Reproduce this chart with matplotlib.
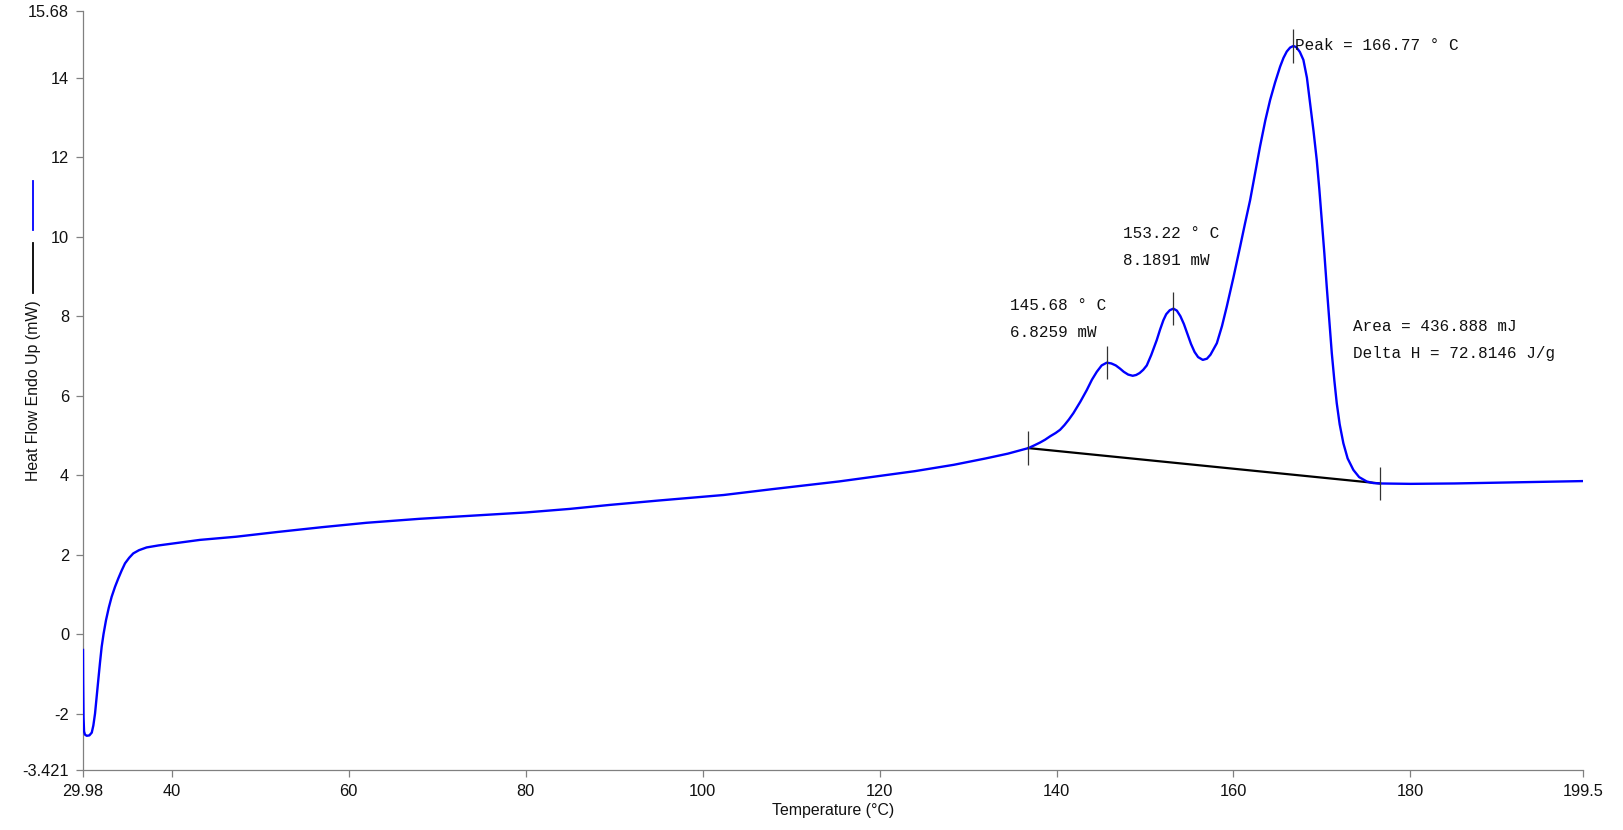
import numpy as np
import matplotlib
matplotlib.use('Agg')
import matplotlib.pyplot as plt
from matplotlib.lines import Line2D

# DSC heating curve
temp = [29.98, 30.0, 30.04, 30.1, 30.2, 30.4, 30.7, 30.97, 31.15, 31.34,
        31.52, 31.71, 31.9, 32.09, 32.3, 32.58, 32.9, 33.22, 33.6, 33.97,
        34.35, 34.73, 35.2, 35.66, 36.3, 37.17, 38.5, 40.19, 43.2, 47.3,
        52.0, 57.0, 62.0, 68.0, 74.0, 80.0, 85.0, 89.5, 95.0, 102.4,
        108.0, 115.4, 120.0, 124.0, 128.4, 132.0, 134.5, 136.82, 137.5, 138.14,
        138.7, 139.3, 139.9, 140.4, 140.9, 141.4, 141.91, 142.7, 143.42, 144.0,
        144.55, 145.1, 145.68, 146.2, 146.7, 147.18, 147.6, 148.1, 148.61, 149.0,
        149.4, 149.8, 150.2, 150.7, 151.33, 151.7, 152.08, 152.4, 152.8, 153.21,
        153.6, 154.0, 154.4, 154.8, 155.2, 155.6, 156.0, 156.53, 157.0, 157.4,
        157.8, 158.12, 158.7, 159.24, 160.0, 160.75, 161.3, 161.88, 162.4, 163.0,
        163.6, 164.14, 164.7, 165.27, 165.65, 166.02, 166.4, 166.77, 167.1, 167.5,
        167.9, 168.3, 168.66, 169.05, 169.41, 169.7, 169.98, 170.27, 170.54, 170.83,
        171.11, 171.4, 171.67, 172.0, 172.42, 172.9, 173.55, 174.2, 175.06, 175.8,
        176.57, 180.0, 185.0, 190.0, 195.0, 199.5]
heat_flow = [-0.40, -1.20, -2.10, -2.45, -2.53, -2.56, -2.55, -2.48, -2.30, -2.00,
             -1.60, -1.15, -0.72, -0.32, 0.00, 0.35, 0.67, 0.94, 1.19, 1.40,
             1.60, 1.78, 1.92, 2.03, 2.11, 2.18, 2.23, 2.28, 2.37, 2.45,
             2.57, 2.69, 2.80, 2.90, 2.98, 3.06, 3.15, 3.25, 3.36, 3.50,
             3.65, 3.84, 3.98, 4.10, 4.26, 4.42, 4.54, 4.68, 4.75, 4.82,
             4.89, 4.98, 5.06, 5.14, 5.26, 5.40, 5.56, 5.85, 6.14, 6.40,
             6.60, 6.76, 6.83, 6.81, 6.76, 6.68, 6.60, 6.53, 6.50, 6.52,
             6.57, 6.65, 6.76, 7.02, 7.40, 7.66, 7.90, 8.05, 8.15, 8.19,
             8.14, 8.00, 7.80, 7.55, 7.30, 7.10, 6.97, 6.90, 6.93, 7.03,
             7.19, 7.32, 7.75, 8.24, 8.98, 9.75, 10.33, 10.92, 11.55, 12.27,
             12.93, 13.44, 13.88, 14.28, 14.50, 14.66, 14.76, 14.80, 14.77, 14.65,
             14.45, 14.00, 13.36, 12.65, 11.93, 11.20, 10.42, 9.58, 8.74, 7.88,
             7.07, 6.38, 5.81, 5.28, 4.80, 4.42, 4.13, 3.95, 3.84, 3.80,
             3.79, 3.78, 3.79, 3.81, 3.83, 3.85]

# integration baseline
base_x = [136.82, 176.57]
base_y = [4.68, 3.79]

# markers on curve (baseline ends and peaks)
mark_x = [136.82, 145.68, 153.22, 166.77, 176.57]
mark_y = [4.68, 6.83, 8.19, 14.80, 3.79]

xticks = [29.98, 40, 60, 80, 100, 120, 140, 160, 180, 199.5]
xticklabels = ['29.98', '40', '60', '80', '100', '120', '140', '160', '180', '199.5']
yticks = [-3.421, -2, 0, 2, 4, 6, 8, 10, 12, 14, 15.68]
yticklabels = ['-3.421', '-2', '0', '2', '4', '6', '8', '10', '12', '14', '15.68']

notes = [
    (134.73, 8.27, '145.68 ° C'),
    (134.73, 7.59, '6.8259 mW'),
    (147.48, 10.07, '153.22 ° C'),
    (147.48, 9.39, '8.1891 mW'),
    (166.97, 14.82, 'Peak = 166.77 ° C'),
    (173.48, 7.74, 'Area = 436.888 mJ'),
    (173.48, 7.07, 'Delta H = 72.8146 J/g'),
]

plt.rcParams['font.family'] = ['Liberation Sans', 'DejaVu Sans']

fig = plt.figure(figsize=(16.24, 8.30), dpi=100)
ax = fig.add_axes([83 / 1624, 1 - 770 / 830, 1500 / 1624, 759 / 830])

ax.plot(temp, heat_flow, color='#0000ff', lw=1.7, zorder=3)
ax.plot(base_x, base_y, color='black', lw=1.6, zorder=2)
ax.vlines(mark_x, np.array(mark_y) - 0.42, np.array(mark_y) + 0.42,
          color='#333333', lw=0.9, zorder=4)

for x, y, s in notes:
    ax.text(x, y, s, ha='left', va='center', fontsize=11.5,
            family=['Liberation Mono', 'DejaVu Sans Mono'], color='#111111')

ax.set_xlim(29.98, 199.5)
ax.set_ylim(-3.421, 15.68)
ax.set_xticks(xticks)
ax.set_xticklabels(xticklabels)
ax.set_yticks(yticks)
ax.set_yticklabels(yticklabels)

for side in ['top', 'right']:
    ax.spines[side].set_visible(False)
for side in ['left', 'bottom']:
    ax.spines[side].set_color('#808080')
    ax.spines[side].set_linewidth(0.9)
ax.tick_params(axis='both', direction='out', length=5, width=0.9,
               color='#808080', labelsize=11.8, labelcolor='#111111')
ax.tick_params(axis='x', pad=5)
ax.tick_params(axis='y', pad=5)

ax.set_xlabel('Temperature (°C)', fontsize=11.4, color='#111111')
ax.xaxis.set_label_coords(0.5, -0.043)
ax.set_ylabel('Heat Flow Endo Up (mW)', fontsize=11.4, color='#111111')
ax.yaxis.set_label_coords(-0.033, 0.5, transform=ax.transAxes)
ax.yaxis.label.set_va('center')

# series keys at the left edge (no text)
fig.add_artist(Line2D([33 / 1624, 33 / 1624], [1 - 181 / 830, 1 - 230 / 830],
                      color='#0000ff', lw=1.3))
fig.add_artist(Line2D([33 / 1624, 33 / 1624], [1 - 243 / 830, 1 - 293 / 830],
                      color='black', lw=1.3))

fig.savefig('out.png', dpi=100)
